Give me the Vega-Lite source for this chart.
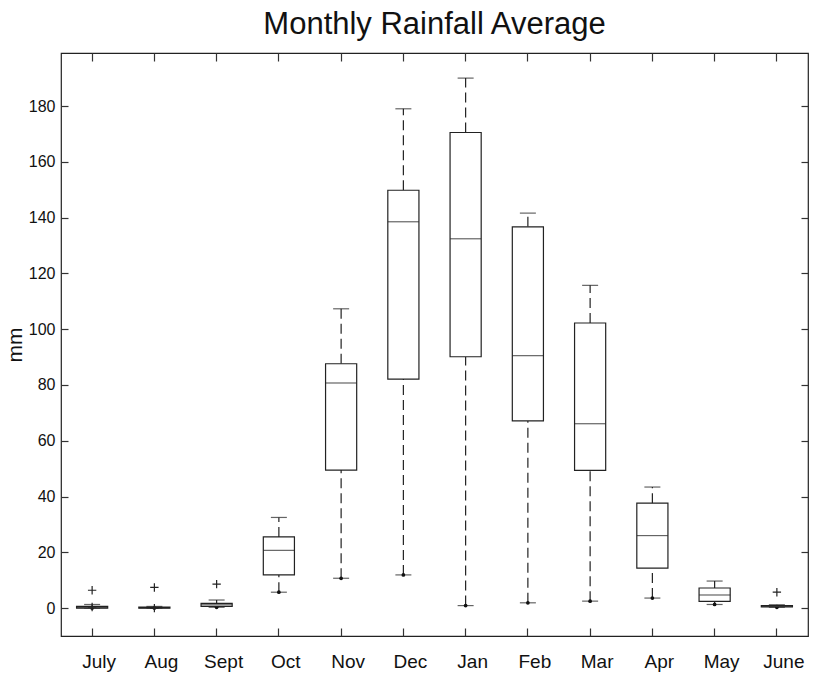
{
  "$schema": "https://vega.github.io/schema/vega-lite/v6.json",
  "autosize": "none",
  "width": 747,
  "height": 583,
  "padding": {"left": 61, "top": 53, "right": 6, "bottom": 40},
  "background": "white",
  "config": {
    "font": "Liberation Sans",
    "view": {"stroke": "#222", "strokeWidth": 1.2},
    "axis": {"domain": false, "grid": false, "tickColor": "#333", "tickWidth": 1.2, "labelColor": "#111", "titleColor": "#111", "titleFontWeight": "normal"}
  },
  "title": {"text": "Monthly Rainfall Average", "fontSize": 31, "fontWeight": "normal", "color": "#111", "offset": 11, "anchor": "middle"},
  "datasets": {
    "boxes": [
      {"month": "July", "lo": 0.0, "q1": 0.0, "med": 0.2, "q3": 0.6, "hi": 1.3},
      {"month": "Aug", "lo": 0.0, "q1": 0.0, "med": 0.1, "q3": 0.4, "hi": 0.6},
      {"month": "Sept", "lo": 0.3, "q1": 0.6, "med": 1.2, "q3": 1.7, "hi": 2.9},
      {"month": "Oct", "lo": 5.7, "q1": 11.9, "med": 20.7, "q3": 25.5, "hi": 32.5},
      {"month": "Nov", "lo": 10.7, "q1": 49.5, "med": 80.7, "q3": 87.6, "hi": 107.3},
      {"month": "Dec", "lo": 11.9, "q1": 82.1, "med": 138.5, "q3": 149.8, "hi": 179.0},
      {"month": "Jan", "lo": 0.9, "q1": 90.1, "med": 132.4, "q3": 170.5, "hi": 190.0},
      {"month": "Feb", "lo": 1.9, "q1": 67.1, "med": 90.5, "q3": 136.7, "hi": 141.6},
      {"month": "Mar", "lo": 2.5, "q1": 49.4, "med": 66.1, "q3": 102.2, "hi": 115.7},
      {"month": "Apr", "lo": 3.6, "q1": 14.3, "med": 26.0, "q3": 37.6, "hi": 43.4},
      {"month": "May", "lo": 1.3, "q1": 2.4, "med": 4.7, "q3": 7.2, "hi": 9.7},
      {"month": "June", "lo": 0.3, "q1": 0.4, "med": 0.6, "q3": 0.9, "hi": 1.2}
    ],
    "outliers": [
      {"month": "July", "value": 6.4},
      {"month": "July", "value": 0.4},
      {"month": "Aug", "value": 7.4},
      {"month": "Aug", "value": 0.0},
      {"month": "Sept", "value": 8.6},
      {"month": "June", "value": 5.7}
    ]
  },
  "data": {"name": "boxes"},
  "resolve": {"axis": {"x": "independent", "y": "independent"}},
  "encoding": {
    "x": {
      "field": "month", "type": "nominal", "sort": null,
      "scale": {"type": "band", "paddingInner": 0, "paddingOuter": 0,
        "domain": ["July", "Aug", "Sept", "Oct", "Nov", "Dec", "Jan", "Feb", "Mar", "Apr", "May", "June"]},
      "axis": null
    }
  },
  "layer": [
    {
      "mark": {"type": "rule", "stroke": "#222", "strokeWidth": 1.2, "strokeDash": [10, 5]},
      "encoding": {
        "y": {"field": "lo", "type": "quantitative", "scale": {"domain": [-10, 199], "nice": false, "zero": false}, "axis": null},
        "y2": {"field": "q1"}
      }
    },
    {
      "mark": {"type": "rule", "stroke": "#222", "strokeWidth": 1.2, "strokeDash": [10, 5]},
      "encoding": {
        "y": {"field": "q3", "type": "quantitative", "axis": null},
        "y2": {"field": "hi"}
      }
    },
    {
      "mark": {"type": "tick", "orient": "horizontal", "size": 16, "thickness": 1.2, "color": "#222"},
      "encoding": {"y": {"field": "lo", "type": "quantitative", "axis": null}}
    },
    {
      "mark": {"type": "tick", "orient": "horizontal", "size": 16, "thickness": 1.2, "color": "#222"},
      "encoding": {"y": {"field": "hi", "type": "quantitative", "axis": null}}
    },
    {
      "mark": {"type": "point", "shape": "circle", "filled": true, "size": 14, "color": "#111", "opacity": 1},
      "encoding": {"y": {"field": "lo", "type": "quantitative", "axis": null}}
    },
    {
      "mark": {"type": "bar", "width": {"band": 0.5}, "fill": "white", "stroke": "#222", "strokeWidth": 1.2},
      "encoding": {
        "x": {
          "field": "month", "type": "nominal", "sort": null,
          "axis": {"orient": "bottom", "title": null, "labelAngle": 0, "labelFontSize": 19, "labelPadding": 24, "labelOffset": 7, "tickSize": -8, "labelColor": "#111"}
        },
        "y": {
          "field": "q1", "type": "quantitative",
          "axis": {"orient": "left", "title": "mm", "titleFontSize": 21, "titlePadding": 3, "labelFontSize": 16, "labelPadding": 13, "tickSize": -7, "values": [0, 20, 40, 60, 80, 100, 120, 140, 160, 180]}
        },
        "y2": {"field": "q3"}
      }
    },
    {
      "mark": {"type": "tick", "orient": "horizontal", "size": 31, "thickness": 1.2, "color": "#222"},
      "encoding": {
        "x": {
          "field": "month", "type": "nominal", "sort": null,
          "axis": {"orient": "top", "title": null, "labels": false, "tickSize": -8}
        },
        "y": {
          "field": "med", "type": "quantitative",
          "axis": {"orient": "right", "title": null, "labels": false, "tickSize": -7, "values": [0, 20, 40, 60, 80, 100, 120, 140, 160, 180]}
        }
      }
    },
    {
      "data": {"name": "outliers"},
      "mark": {"type": "point", "shape": "M-1,0H1M0,-1V1", "filled": false, "size": 70, "stroke": "#222", "strokeWidth": 1.2, "opacity": 1},
      "encoding": {"y": {"field": "value", "type": "quantitative", "axis": null}}
    }
  ]
}
